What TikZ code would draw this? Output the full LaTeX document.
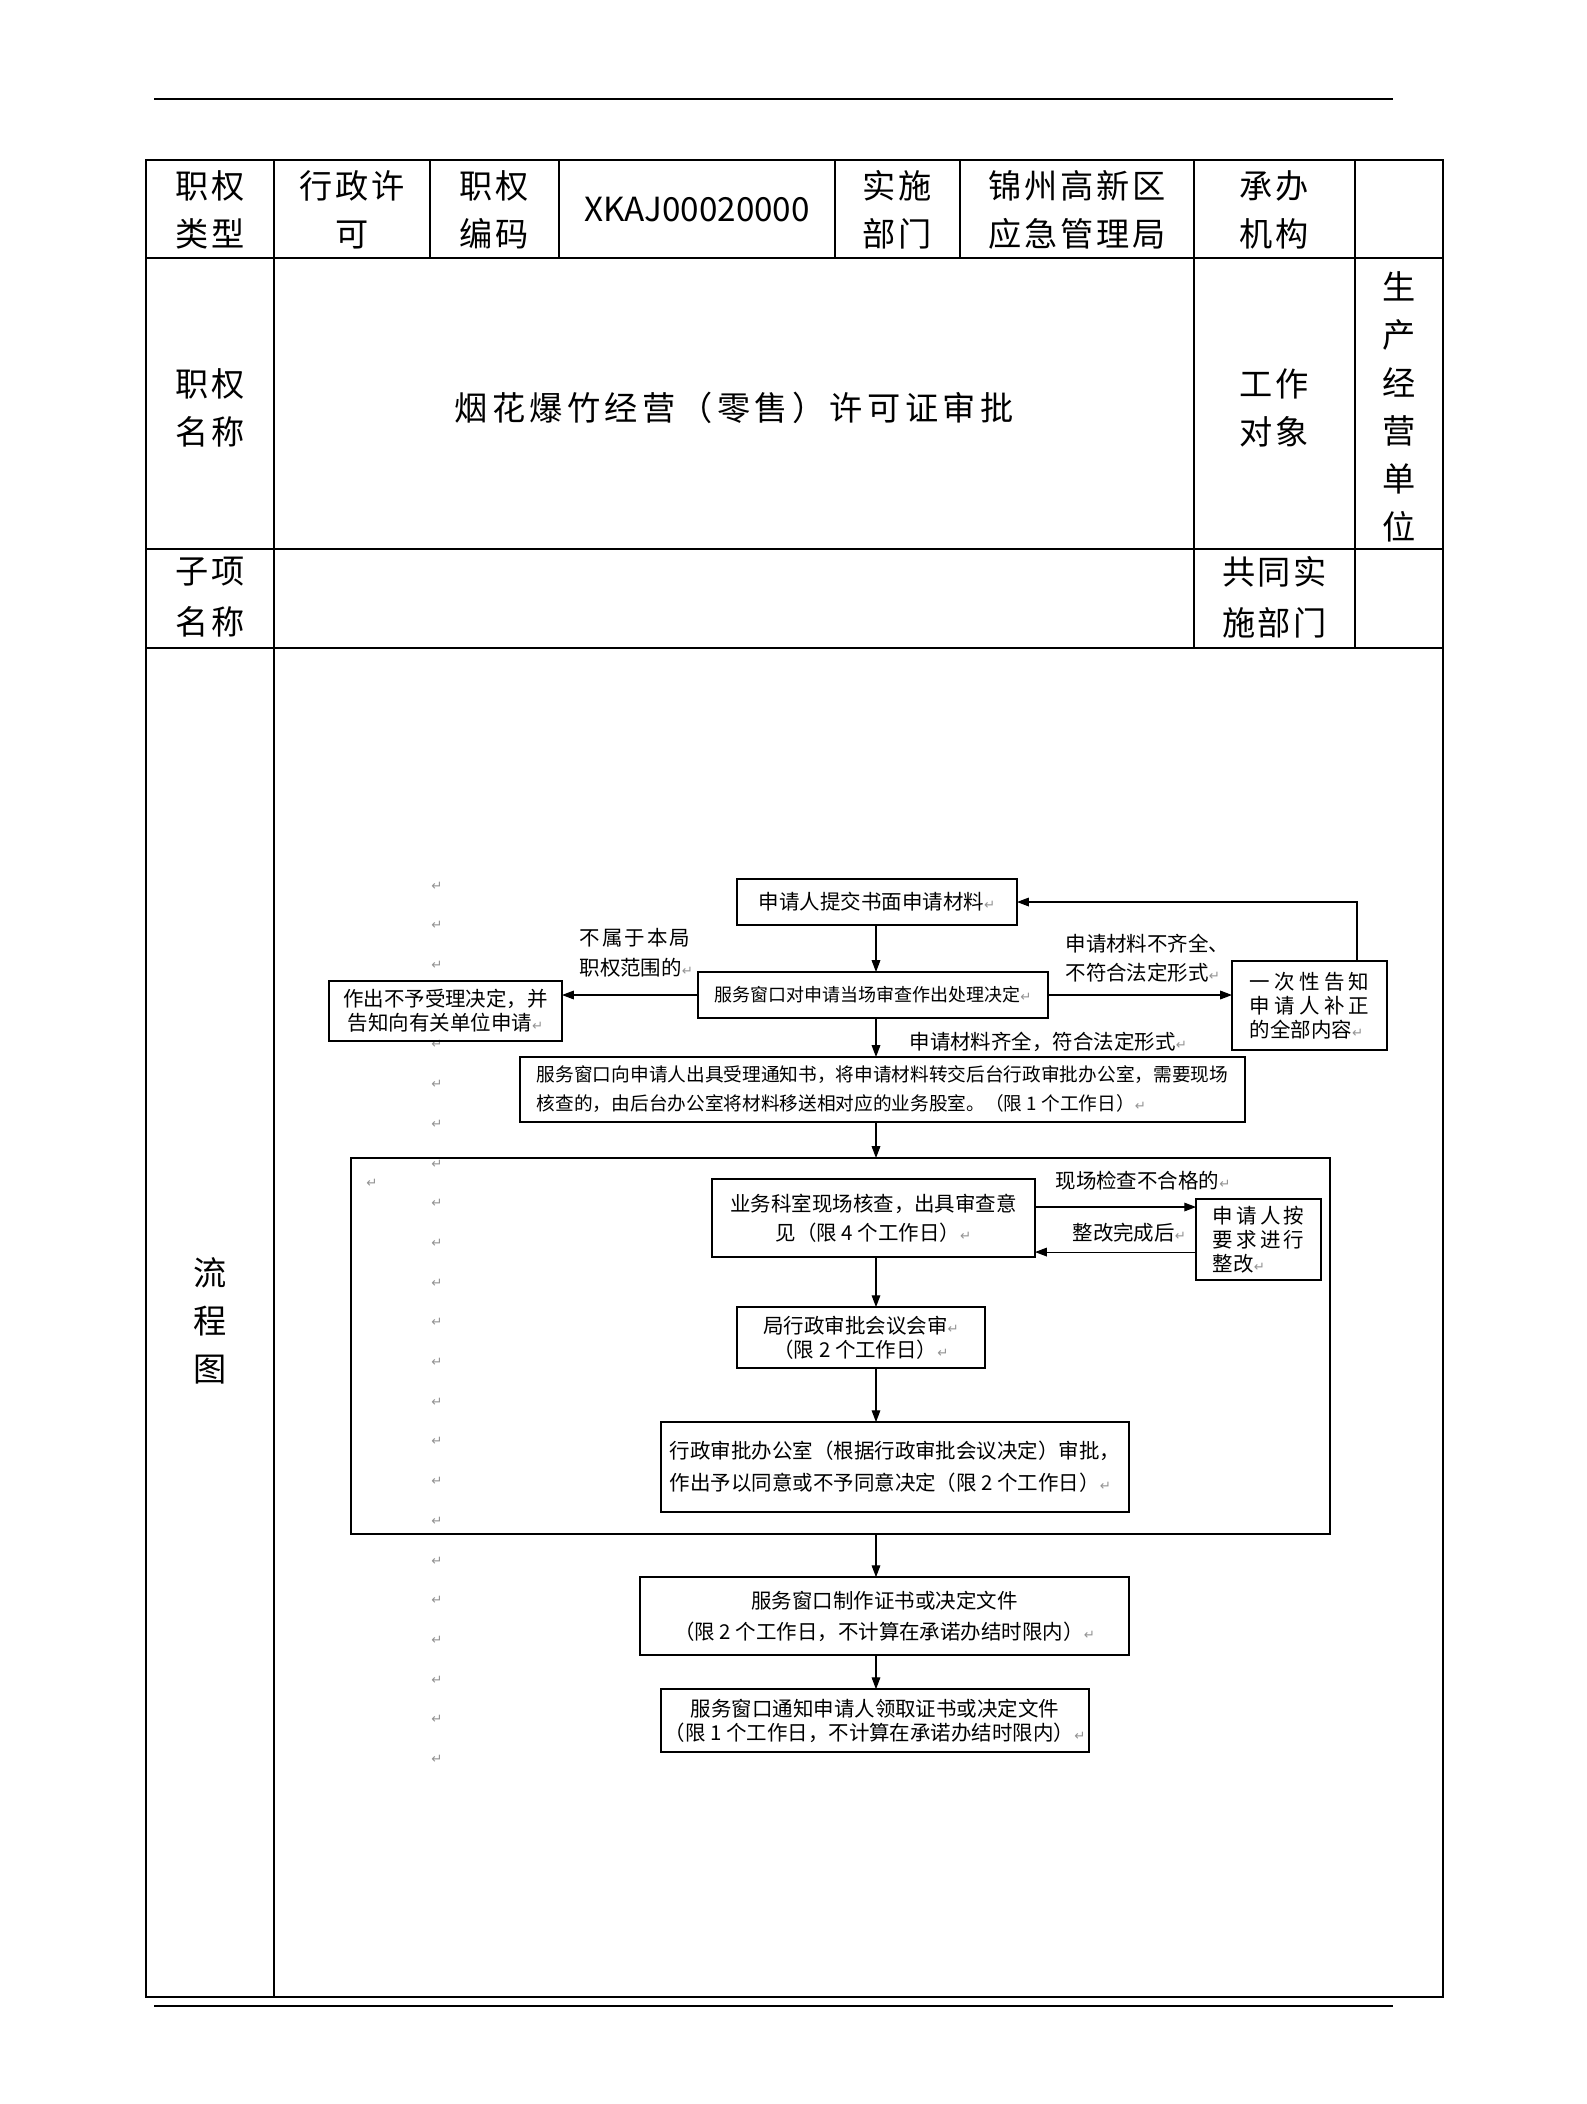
\documentclass[tikz,border=0pt]{standalone}
\usepackage{fontspec}
\setmainfont{Noto Sans CJK SC}
\newfontfamily\tabcjk[LetterSpace=8]{Noto Sans CJK SC}
\newfontfamily\retfont{DejaVu Sans}
\usepackage{xcolor}
\usepackage{tikz}
\usetikzlibrary{arrows.meta, positioning, calc}

\newcommand{\tabfont}{\tabcjk\fontsize{12}{17.3}\selectfont}
\newcommand{\flowfont}{\fontsize{7.4}{8.7}\selectfont}
\newcommand{\retmark}{{\retfont\fontsize{4.8}{5}\selectfont\textcolor{gray!85}{↵}}}

\tikzset{
    cell/.style={align=center, font=\tabfont, inner sep=0pt},
    box/.style={draw, line width=0.6pt, align=center, font=\flowfont, inner sep=1pt, outer sep=0pt},
    lbl/.style={align=left, font=\flowfont, inner sep=0pt, anchor=west},
    ret/.style={text=gray!85, font=\retfont\fontsize{4.8}{5}\selectfont, inner sep=0pt},
}

\begin{document}
\begin{tikzpicture}[x=0.127mm, y=-0.127mm, >={Triangle[length=1.5mm,width=1.1mm]}]
    \useasboundingbox[fill=white] (0,0) rectangle (1587,2104);

    % page rules and table grid
    \draw[line width=1pt] (154,99) -- (1393,99);
    \draw[line width=1pt] (154,2006) -- (1393,2006);
    \draw[line width=0.55pt] (146,160) rectangle (1443,1997);
    \foreach \y in {258,549,648}
        \draw[line width=0.55pt] (146,\y) -- (1443,\y);
    \foreach \x in {430,559,835,960}
        \draw[line width=0.55pt] (\x,160) -- (\x,258);
    \foreach \x in {1194,1355}
        \draw[line width=0.55pt] (\x,160) -- (\x,648);
    \draw[line width=0.55pt] (274,160) -- (274,1997);

    \node[cell] (kind) at (210,210) {职权\\类型};
    \node[cell] (kindval) at (352,210) {行政许\\可};
    \node[cell] (code) at (494.5,210) {职权\\编码};
    \node[cell, font=\fontsize{12}{14}\selectfont] (codeval) at (697,210) {XKAJ00020000};
    \node[cell] (dept) at (897.5,210) {实施\\部门};
    \node[cell] (deptval) at (1077,210) {锦州高新区\\应急管理局};
    \node[cell] (org) at (1274.5,210) {承办\\机构};
    \node[cell] (name) at (210,408) {职权\\名称};
    \node[cell, font=\tabfont\addfontfeature{LetterSpace=13}] (nameval) at (734,408) {烟花爆竹经营（零售）许可证审批};
    \node[cell] (target) at (1274.5,408) {工作\\对象};
    \node[cell] (targetval) at (1399,407) {生\\产\\经\\营\\单\\位};
    \node[cell] (sub) at (210,597) {子项\\[1pt]名称};
    \node[cell] (joint) at (1274.5,597) {共同实\\[1pt]施部门};
    \node[cell] (flow) at (210,1321) {流\\程\\图};

    % stray paragraph marks
    \foreach \k in {0,1,2,4,5,...,22}
        \node[ret] (ret\k) at (437,{886+39.7*\k}) {↵};
    \node[ret] (retx) at (372,1183) {↵};

    % flowchart
    \coordinate (spine) at (876,0);
    \node[box, minimum width=35.56mm, minimum height=5.84mm] (submit) at (877,902) {申请人提交书面申请材料\retmark};
    \node[box, minimum width=44.45mm, minimum height=5.84mm, font=\fontsize{6.5}{8}\selectfont,
        below=5.97mm of submit, xshift=-0.51mm] (check) {服务窗口对申请当场审查作出处理决定\retmark};
    \node[box, minimum width=29.59mm, minimum height=7.62mm,
        left=17.27mm of check, yshift=-2.03mm] (reject) {作出不予受理决定，并\\告知向有关单位申请\retmark};
    \node[box, align=left, minimum width=19.69mm, minimum height=11.3mm,
        right=23.37mm of check, yshift=-1.33mm] (notify)
        {\makebox[15.2mm][s]{一\hfill 次\hfill 性\hfill 告\hfill 知}\\
         \makebox[15.2mm][s]{申\hfill 请\hfill 人\hfill 补\hfill 正}\\
         的全部内容\retmark};
    \node[box, align=left, minimum width=92.08mm, minimum height=8.26mm, font=\fontsize{6.75}{8}\selectfont,
        below=4.95mm of check, xshift=1.21mm] (accept)
        {服务窗口向申请人出具受理通知书，将申请材料转交后台行政审批办公室，需要现场\\[2.5pt]
         核查的，由后台办公室将材料移送相对应的业务股室。（限 1 个工作日）\retmark};
    \node[draw, line width=0.6pt, outer sep=0pt, minimum width=124.33mm, minimum height=47.75mm,
        below=4.57mm of accept, xshift=-5.33mm] (frame) {};
    \node[box, minimum width=41.02mm, minimum height=9.91mm,
        below=7.24mm of accept, xshift=-1.14mm] (inspect)
        {业务科室现场核查，出具审查意\\[1.8pt]见（限 4 个工作日）\retmark};
    \node[box, align=left, minimum width=15.88mm, minimum height=10.29mm,
        right=20.45mm of inspect, yshift=-2.73mm] (fix)
        {\makebox[11.6mm][s]{申\hfill 请\hfill 人\hfill 按}\\
         \makebox[11.6mm][s]{要\hfill 求\hfill 进\hfill 行}\\
         整改\retmark};
    \node[box, minimum width=31.5mm, minimum height=7.75mm,
        below=6.35mm of inspect, xshift=-1.59mm] (meeting)
        {局行政审批会议会审\retmark\\（限 2 个工作日）\retmark};
    \node[box, align=left, minimum width=59.44mm, minimum height=11.43mm,
        below=6.86mm of meeting, xshift=4.32mm] (decide)
        {行政审批办公室（根据行政审批会议决定）审批，\\[2.8pt]
         作出予以同意或不予同意决定（限 2 个工作日）\retmark};
    \node[box, minimum width=62.1mm, minimum height=9.91mm,
        below=8.26mm of decide, xshift=-1.33mm] (issue)
        {服务窗口制作证书或决定文件\\[2.5pt]（限 2 个工作日，不计算在承诺办结时限内）\retmark};
    \node[box, minimum width=54.36mm, minimum height=8mm,
        below=4.32mm of issue, xshift=-1.21mm] (deliver)
        {服务窗口通知申请人领取证书或决定文件\\（限 1 个工作日，不计算在承诺办结时限内）\retmark};

    \node[lbl] (outscope) at (579,953) {\addfontfeature{LetterSpace=10}不属于本局\\[2pt]职权范围的\retmark};
    \node[lbl] (lacking) at (1065,958) {申请材料不齐全、\\[2pt]不符合法定形式\retmark};
    \node[lbl] (complete) at (909,1042) {申请材料齐全，符合法定形式\retmark};
    \node[lbl] (failed) at (1055,1181) {现场检查不合格的\retmark};
    \node[lbl] (fixed) at (1072,1233) {整改完成后\retmark};

    \draw[->] (spine |- submit.south) -- (spine |- check.north);
    \draw[->] (check.west) -- (check.west -| reject.east);
    \draw[->] (check.east) -- (check.east -| notify.west);
    \draw[->] ([xshift=6.03mm]notify.north) |- (submit.east);
    \draw[->] (spine |- check.south) -- (spine |- accept.north);
    \draw[->] (spine |- accept.south) -- (spine |- frame.north);
    \draw[->] ([yshift=1.4mm]inspect.east) -- ([yshift=1.4mm]inspect.east -| fix.west);
    \draw[->] ([yshift=-1.59mm]fix.west) -- ([yshift=-1.59mm]fix.west -| inspect.east);
    \draw[->] (spine |- inspect.south) -- (spine |- meeting.north);
    \draw[->] (spine |- meeting.south) -- (spine |- decide.north);
    \draw[->] (spine |- frame.south) -- (spine |- issue.north);
    \draw[->] (spine |- issue.south) -- (spine |- deliver.north);
\end{tikzpicture}
\end{document}
